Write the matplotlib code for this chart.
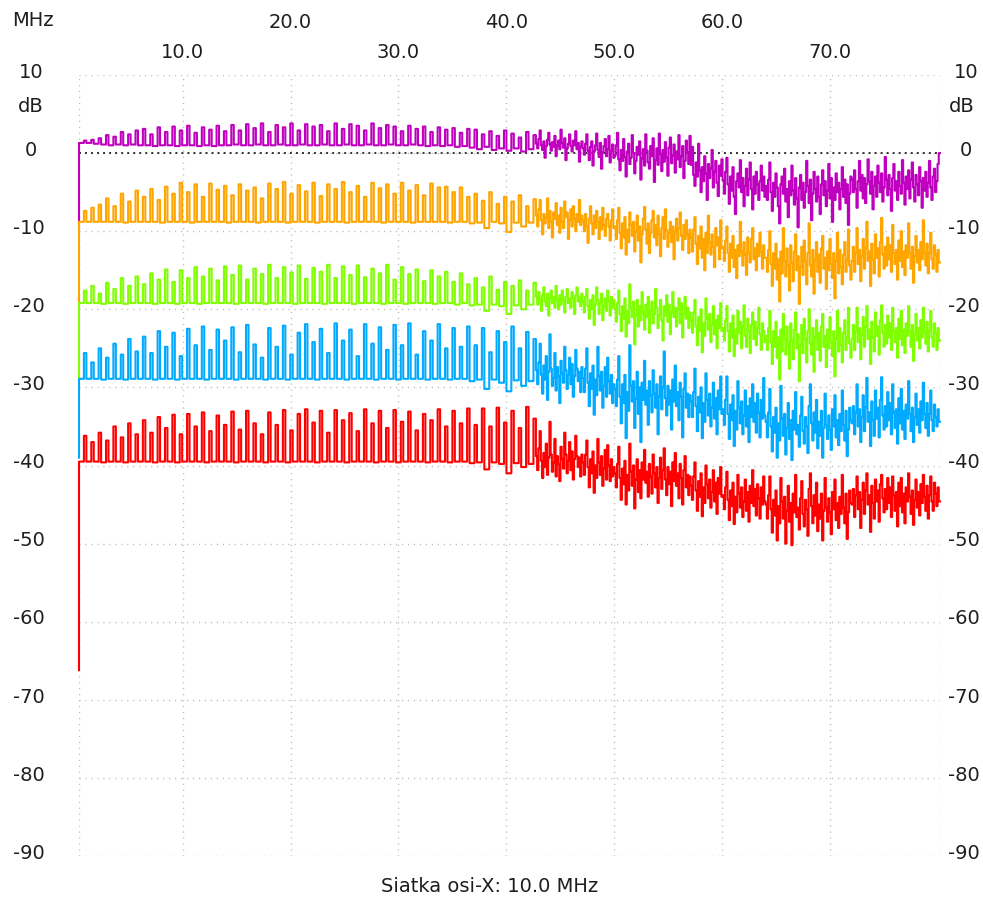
# Frequency response sweep, five traces offset by 10 dB each.
# Values (dB vs MHz).

import numpy as np
import matplotlib
matplotlib.use("Agg")
import matplotlib.pyplot as plt
from matplotlib.transforms import blended_transform_factory

# Sweep range (MHz)
F_START = 0.39
F_STOP = 80.2

# *_COMB: first value = start of trace, then (floor, spike) pairs up to ~42.7 MHz
# *_TAIL: sample by sample values from ~42.7 MHz to the end of the sweep
MAGENTA_COMB = [
    -9.6,
    1.3, 1.6, 1.3, 1.7, 1.2, 1.9,
    1.1, 2.3, 1.0, 2.1, 1.1, 2.7, 1.0, 2.4, 1.1, 2.9,
    1.0, 3.1, 1.0, 2.4, 0.9, 3.3, 1.0, 2.7, 1.0, 3.4, 0.9, 2.9, 1.0, 3.5, 1.0, 2.6, 0.9, 3.3, 1.0, 3.0, 0.9, 3.5, 1.0, 2.8,
    1.0, 3.6, 1.1, 2.9, 1.0, 3.7, 1.0, 3.2, 1.1, 3.8, 1.0, 2.7, 1.0, 3.6, 1.1, 3.3, 1.0, 3.8, 1.0, 2.9,
    1.1, 3.7, 1.0, 3.4, 1.0, 3.6, 1.1, 2.8, 1.0, 3.8, 1.0, 3.1, 1.1, 3.7, 1.0, 3.5, 1.0, 2.9, 1.1, 3.8,
    1.0, 3.2, 1.0, 3.6, 1.1, 3.4, 1.0, 2.8, 1.0, 3.5, 1.1, 3.1, 1.0, 3.4, 0.9, 2.7, 1.0, 3.3, 0.9, 3.0,
    1.0, 3.2, 0.8, 2.6, 0.9, 3.1,
    0.7, 3.0, 0.5, 2.4, 0.8, 2.8, 0.4, 2.2, 0.6, 2.9, 0.3, 2.5, 0.6, 2.0, 0.2, 2.7, 0.5, 2.3,
]
MAGENTA_TAIL = [
    1.2, 0.6, 1.8, 2.9, 1.0, 0.4, 1.5, -0.6, 0.9, 1.7, 2.6, 1.1, 0.3, 1.4, 0.8, 2.2, -0.4, 1.0, 1.6, 0.5,
    3.0, 1.3, 0.7, 1.9, -0.9, 0.6, 1.2, 2.4, 0.9, 0.2, 1.6, 1.0, 2.8, 0.5, 1.3, -1.1, 0.8, 1.5,
    0.6, -0.2, 1.2, 2.4, 0.3, -0.9, 0.8, 1.5, -1.6, 0.2, 1.0, 2.5, 0.4, -0.5, 1.3, -2.0, 0.1, 0.9, 1.8, -0.4,
    0.5, 2.2, -1.2, 0.3, 1.1, -0.6,
    -0.3, 1.0, 2.6, -0.8, -2.2, 0.4, -1.0, 1.8, -0.5, -3.0, 0.2, 1.2, -1.4, -0.6, 2.3, 0.0, -2.6, -1.0, 0.8, -0.2,
    1.5, -3.4, -0.7, 0.5, -1.6, 2.4, 0.3, -1.2, -2.0, 0.9, -0.4, 1.9, -3.7, -0.9, 0.6, -1.5, 2.5, -0.1, -2.3, 0.4,
    -1.1, 1.4, -0.6, -2.9, 0.7, 2.0, -1.3, -0.3, 1.1, -2.5, 0.2, -0.8, 2.3, -1.8, -0.4, 0.9, -3.2, -1.0, 1.6, 0.1,
    -1.4, 2.2,
    -1.5, 0.8, -2.8, -4.2, -1.2, -3.0, 1.2, -2.2, -5.0, -1.8, -3.6, -0.4, -2.6, -6.0, -1.4, -3.2, -2.0, 0.4, -4.4, -2.4,
    -1.0, -3.8, -5.5, -1.6, -2.9, -0.8,
    -3.5, -5.2, -2.4, -0.6, -4.0, -6.5, -3.0, -4.8, -1.8, -5.6, -7.8, -3.6, -2.6, -4.4, -0.9, -5.0, -3.2, -6.8, -4.2, -2.0,
    -5.4, -3.4, -1.2, -4.6, -7.2, -3.0, -5.2, -2.4, -4.0, -6.0, -3.6, -1.6, -4.8, -3.0, -5.6,
    -4.2, -6.0, -3.4, -1.2, -5.0, -7.4, -3.8, -5.6, -2.6, -4.4, -6.8, -9.0, -4.0, -3.0, -5.2, -2.0, -6.2, -4.6, -8.2, -3.6,
    -5.4, -1.6, -4.8, -6.6, -3.2, -5.8, -9.5, -4.4, -2.8, -6.0, -3.8, -7.0, -5.0, -1.0, -4.2, -6.4, -3.4, -8.6, -5.2, -2.4,
    -4.6, -6.2, -3.0, -5.6, -7.8, -4.0, -2.2, -5.4, -3.6, -6.8, -4.8, -1.4, -5.8, -3.2, -8.8, -4.4, -6.0, -2.6, -5.0, -3.8,
    -7.2, -4.6, -1.8, -5.6, -3.4, -6.4, -4.0, -9.2, -5.2, -3.0,
    -3.4, -5.0, -2.2, -4.6, -7.0, -3.6, -1.0, -4.8, -2.8, -5.8, -3.2, -6.4, -4.0, -0.8, -3.6, -5.2, -2.4, -7.2, -4.2, -3.0,
    -5.6, -1.6, -3.8, -5.0, -2.6, -6.2, -4.4, -0.5, -3.4, -5.4, -2.8, -4.6, -7.4, -3.2, -1.4, -4.8, -3.6, -6.0, -2.4, -4.2,
    -5.2, -0.9, -3.8, -6.6, -3.0, -4.6, -2.2, -5.8, -3.4, -1.2, -4.4, -6.2, -2.8, -4.0, -5.4, -1.8, -3.6, -7.0, -3.2, -4.8,
    -2.4, -5.6, -3.8, -1.0, -4.4, -6.0, -3.0, -2.0, -5.0, -3.6, -1.4, 0.0,
]

ORANGE_COMB = [
    -19.0,
    -8.8, -7.4, -8.8, -7.0, -8.8, -6.6,
    -8.8, -5.8, -8.8, -6.8, -8.8, -5.2, -8.9, -6.2, -8.8, -4.8,
    -8.8, -5.6, -8.8, -4.6, -8.8, -6.0, -8.9, -4.3, -8.8, -5.2, -8.8, -3.8, -8.8, -5.0, -8.9, -4.0,
    -8.8, -5.6, -8.8, -3.9, -8.8, -4.7, -8.8, -4.2,
    -8.9, -5.4, -8.8, -4.0, -8.8, -4.8, -8.8, -4.4, -8.9, -5.8, -8.8, -3.9, -8.8, -4.6, -8.8, -3.7,
    -8.9, -5.2, -8.8, -4.1, -8.8, -4.9, -8.8, -3.8, -8.9, -5.5, -8.8, -4.0, -8.8, -4.6, -8.8, -3.7,
    -8.9, -5.0, -8.8, -4.2, -8.8, -5.6, -8.8, -3.8, -8.8, -4.5, -8.9, -4.0, -8.8, -5.2, -8.8, -3.8,
    -8.8, -4.8, -8.9, -4.1, -8.8, -5.4, -8.8, -3.9, -8.8, -4.4, -8.8, -4.3, -8.9, -5.0, -8.8, -4.4,
    -8.8, -5.6,
    -9.0, -5.2, -8.9, -6.1, -9.6, -5.0, -8.8, -6.5, -9.0, -5.6, -10.1, -6.2, -8.9, -5.4, -9.4, -6.8, -8.9, -5.9,
]
ORANGE_TAIL = [
    -8.0, -9.4, -7.2, -6.0, -8.6, -10.4, -7.8, -9.0, -8.2, -5.8, -9.6, -7.4, -8.8, -10.8, -7.6, -8.4, -6.4, -9.2, -8.0, -10.2,
    -7.0, -8.8, -9.6, -6.2, -8.2, -7.6, -11.0, -8.6, -7.2, -9.4, -6.8, -8.4, -10.0, -7.8, -8.8, -6.0, -9.2, -8.0,
    -8.6, -10.0, -7.8, -9.4, -11.5, -8.4, -6.8, -9.0, -10.4, -8.0, -9.6, -7.4, -8.8, -11.0, -8.2, -9.8, -7.0, -9.2, -10.6, -8.4,
    -7.8, -9.4, -11.2, -8.6, -7.2, -9.6,
    -9.4, -11.0, -8.6, -7.0, -10.2, -12.2, -9.0, -10.8, -8.2, -13.0, -9.8, -11.4, -7.6, -9.2, -10.6, -8.8, -12.6, -10.0, -8.0, -11.2,
    -9.4, -14.0, -10.4, -8.4, -6.9, -9.8, -11.6, -9.0, -12.8, -10.2, -8.6, -7.4, -10.8, -9.2, -11.8, -8.0, -10.4, -13.2, -9.6, -8.2,
    -11.0, -7.2, -9.8, -12.0, -10.2, -8.8, -11.4, -9.4, -13.6, -10.0, -8.4, -11.2, -9.6, -7.6, -10.6, -12.4, -9.2, -11.0, -8.6, -10.4,
    -12.8, -9.8,
    -10.8, -12.6, -9.8, -8.2, -11.6, -14.2, -10.6, -12.2, -9.4, -13.4, -11.0, -15.0, -10.2, -12.8, -8.0, -11.4, -13.0, -10.4, -12.0, -14.6,
    -9.6, -11.8, -10.8, -13.6, -8.6, -12.2,
    -12.0, -13.8, -11.2, -9.4, -12.8, -15.2, -11.6, -13.4, -10.6, -14.6, -12.4, -16.0, -11.8, -13.2, -8.8, -12.6, -14.4, -11.4, -13.0, -15.6,
    -10.8, -12.8, -14.0, -11.0, -9.6, -13.6, -12.2, -15.0, -11.6, -13.2, -10.2, -12.6, -14.8, -11.8, -13.4,
    -13.4, -15.2, -12.4, -10.0, -14.2, -17.0, -12.8, -14.8, -11.6, -16.2, -13.6, -19.0, -12.6, -15.4, -9.6, -13.8, -15.8, -12.2, -14.4, -17.6,
    -11.8, -14.0, -16.4, -12.6, -10.4, -15.0, -13.2, -19.3, -14.6, -12.0, -15.6, -11.2, -13.8, -16.8, -12.8, -9.0, -14.4, -15.8, -12.4, -18.0,
    -13.6, -11.4, -15.2, -13.0, -16.6, -12.2, -10.6, -14.8, -13.4, -17.4, -12.6, -15.0, -11.0, -14.2, -16.0, -12.8, -18.6, -13.8, -10.2, -15.4,
    -12.4, -14.6, -16.8, -13.0, -11.4, -15.2, -13.6, -9.8, -14.4, -16.2,
    -13.8, -12.0, -15.2, -12.8, -9.6, -14.2, -12.4, -16.4, -13.2, -11.0, -14.8, -12.2, -8.8, -13.8, -12.6, -17.0, -11.6, -13.6, -15.4, -10.4,
    -13.4, -12.2, -15.8, -11.4, -8.3, -13.0, -14.8, -12.0, -14.4, -10.8, -13.6, -11.8, -15.2, -9.2, -12.8, -14.2, -12.4, -16.2, -11.2, -13.8,
    -10.0, -14.6, -12.6, -15.6, -11.8, -13.4, -9.0, -12.8, -14.8, -12.0, -16.6, -13.2, -10.6, -14.0, -12.4, -15.0, -11.4, -13.6, -8.6, -12.8,
    -14.4, -11.6, -15.4, -12.8, -10.2, -13.6, -14.8, -11.8, -13.0, -15.2, -12.4, -14.0,
]

GREEN_COMB = [
    -29.0,
    -19.2, -17.6, -19.2, -17.0, -19.2, -18.0,
    -19.3, -16.6, -19.2, -17.4, -19.2, -16.0, -19.3, -17.0, -19.2, -15.8,
    -19.2, -16.8, -19.2, -15.4, -19.3, -16.2, -19.2, -14.9, -19.2, -16.5, -19.3, -15.0, -19.2, -16.0,
    -19.2, -14.6, -19.3, -15.8, -19.2, -14.8, -19.2, -16.3, -19.2, -14.5,
    -19.2, -15.6, -19.3, -14.4, -19.2, -16.2, -19.2, -14.8, -19.2, -15.5, -19.3, -14.3, -19.2, -16.0,
    -19.2, -14.6, -19.2, -15.3, -19.3, -14.4, -19.2, -16.1, -19.2, -14.7, -19.2, -15.2, -19.3, -14.3,
    -19.2, -16.0, -19.2, -14.5, -19.2, -15.6, -19.3, -14.4, -19.2, -15.9, -19.2, -14.8, -19.2, -15.4,
    -19.3, -14.3, -19.2, -16.2, -19.2, -14.6, -19.3, -15.5, -19.2, -14.9, -19.2, -16.4, -19.2, -15.0,
    -19.3, -15.8, -19.2, -15.2, -19.2, -16.5, -19.4, -15.4, -19.2, -16.8,
    -19.5, -16.0, -19.4, -17.2, -20.2, -15.8, -19.4, -17.5, -19.6, -16.5, -20.6, -17.0, -19.5, -16.3,
    -20.0, -17.6, -19.4, -16.6,
]
GREEN_TAIL = [
    -18.4, -19.4, -17.8, -18.8, -20.2, -18.2, -17.2, -19.0, -19.6, -18.0, -20.8, -18.6, -17.6, -19.2, -18.4, -19.8, -17.0, -18.8, -20.0, -18.2,
    -19.4, -17.6, -18.8, -20.4, -18.4, -17.4, -19.2, -18.6, -19.8, -17.8, -18.6, -20.6, -18.2, -17.2, -19.0, -18.4, -19.6, -18.0,
    -19.0, -20.4, -18.4, -17.4, -19.6, -21.2, -18.8, -20.0, -18.2, -22.0, -19.4, -17.2, -18.8, -20.6, -19.2, -18.0, -21.4, -19.6, -18.6, -20.2,
    -17.6, -19.0, -20.8, -18.4, -19.8, -18.8,
    -20.0, -21.6, -19.2, -17.6, -20.6, -22.8, -19.6, -21.2, -18.6, -23.5, -20.2, -21.8, -16.8, -19.8, -21.0, -19.0, -24.5, -20.8, -18.8, -22.2,
    -19.6, -21.4, -17.8, -20.4, -22.6, -19.4, -21.0, -18.4, -23.0, -20.2, -19.0, -21.8, -20.6, -17.4, -19.8, -22.4, -20.8, -18.8, -21.4, -24.0,
    -19.6, -20.8, -18.2, -21.6, -19.4, -23.2, -20.4, -17.8, -21.0, -19.8, -22.2, -20.0, -18.6, -21.8, -19.2, -23.6, -20.6, -18.4, -21.2, -19.8,
    -22.4, -20.4,
    -21.4, -23.0, -20.4, -18.8, -22.2, -24.6, -21.0, -22.8, -20.0, -25.5, -21.8, -23.4, -18.6, -21.2, -22.6, -20.6, -24.2, -22.0, -19.6, -23.2,
    -21.4, -25.0, -20.8, -22.4, -19.2, -22.8,
    -22.4, -24.0, -21.4, -19.6, -22.8, -25.4, -21.8, -23.6, -20.8, -26.0, -22.6, -24.4, -20.2, -23.0, -21.6, -25.0, -22.2, -19.5, -23.4, -24.8,
    -21.2, -22.8, -25.6, -22.0, -20.4, -23.8, -21.6, -24.6, -22.4, -19.8, -23.2, -25.2, -21.8, -22.8, -24.2,
    -23.4, -25.2, -22.4, -20.2, -24.2, -27.0, -22.8, -24.8, -21.6, -26.2, -23.6, -29.0, -22.6, -25.4, -20.6, -23.8, -25.8, -22.2, -24.4, -27.6,
    -21.8, -24.0, -26.4, -22.6, -20.4, -25.0, -23.2, -29.2, -24.6, -22.0, -25.6, -21.2, -23.8, -26.8, -22.8, -20.0, -24.4, -25.8, -22.4, -28.0,
    -23.6, -21.4, -25.2, -23.0, -26.6, -22.2, -20.6, -24.8, -23.4, -27.4, -22.6, -25.0, -21.0, -24.2, -26.0, -22.8, -28.6, -23.8, -20.2, -25.4,
    -22.4, -24.6, -26.8, -23.0, -21.4, -25.2, -23.6, -19.8, -24.4, -26.2,
    -23.8, -22.0, -25.2, -22.8, -19.8, -24.2, -22.4, -26.4, -23.2, -21.0, -24.8, -22.2, -19.6, -23.8, -22.6, -27.0, -21.6, -23.6, -25.4, -20.4,
    -23.4, -22.2, -25.8, -21.4, -19.5, -23.0, -24.8, -22.0, -24.4, -20.8, -23.6, -21.8, -25.2, -19.8, -22.8, -24.2, -22.4, -26.2, -21.2, -23.8,
    -20.2, -24.6, -22.6, -25.6, -21.8, -23.4, -19.6, -22.8, -24.8, -22.0, -26.6, -23.2, -20.6, -24.0, -22.4, -25.0, -21.4, -23.6, -19.8, -22.8,
    -24.4, -21.6, -25.4, -22.8, -20.2, -23.6, -24.8, -21.8, -23.0, -25.2, -22.4, -24.0,
]

BLUE_COMB = [
    -39.0,
    -28.9, -25.6, -28.9, -26.8, -28.9, -25.0,
    -29.0, -26.2, -28.9, -24.4, -28.9, -25.8, -29.0, -23.8, -28.9, -25.4,
    -28.9, -23.5, -28.9, -25.6, -29.0, -22.8, -28.9, -24.8, -28.9, -23.0, -29.0, -26.0, -28.9, -22.5,
    -28.9, -24.6, -28.9, -22.2, -29.0, -25.2, -28.9, -22.6, -28.9, -24.0,
    -28.9, -22.3, -29.0, -25.5, -28.9, -22.0, -28.9, -24.5, -28.9, -26.2, -29.0, -22.4, -28.9, -24.8,
    -28.9, -22.1, -29.0, -25.8, -28.9, -23.0, -28.9, -21.9, -28.9, -24.2, -29.0, -22.5, -28.9, -25.6,
    -28.9, -21.8, -28.9, -24.0, -29.0, -22.6, -28.9, -26.0, -28.9, -21.9, -28.9, -24.4, -29.0, -22.3,
    -28.9, -25.2, -28.9, -22.0, -29.0, -24.6, -28.9, -21.8, -28.9, -25.8, -28.9, -22.8, -29.0, -24.0,
    -28.9, -21.9, -28.9, -25.0, -29.0, -22.4, -28.9, -24.8, -28.9, -22.2,
    -29.2, -24.6, -29.0, -22.4, -30.2, -25.5, -29.0, -22.8, -29.4, -24.2, -30.5, -22.2, -29.1, -25.0,
    -29.8, -22.9, -29.2, -23.8,
]
BLUE_TAIL = [
    -27.8, -29.6, -26.8, -24.4, -28.4, -30.8, -27.2, -29.0, -26.0, -31.6, -28.0, -23.2, -27.6, -29.8, -28.8, -25.6, -30.4, -27.4, -28.6, -32.0,
    -26.6, -28.2, -29.4, -24.8, -27.8, -30.2, -28.4, -26.2, -29.6, -27.0, -31.2, -28.6, -25.2, -27.6, -29.2, -28.0, -30.6, -27.4,
    -28.8, -30.6, -27.6, -25.0, -29.4, -32.4, -28.2, -30.2, -27.2, -33.5, -29.0, -31.0, -24.8, -28.6, -30.4, -28.0, -32.6, -29.8, -27.4, -31.2,
    -26.2, -29.2, -30.8, -28.4, -32.0, -29.6,
    -30.2, -32.4, -29.0, -26.0, -31.2, -34.6, -29.6, -32.0, -28.4, -36.5, -30.6, -33.0, -24.6, -29.8, -31.8, -29.2, -35.2, -31.4, -28.0, -33.4,
    -30.0, -37.0, -29.4, -31.6, -26.6, -32.2, -30.4, -34.8, -29.2, -31.0, -33.2, -27.8, -30.8, -32.6, -29.6, -36.0, -31.2, -28.6, -32.8, -30.0,
    -25.4, -31.4, -33.6, -29.8, -32.2, -30.4, -35.4, -29.0, -31.8, -27.2, -32.4, -30.6, -34.2, -29.4, -31.2, -36.4, -30.2, -28.2, -32.6, -30.8,
    -33.8, -31.0,
    -31.8, -33.8, -30.6, -27.6, -32.4, -35.6, -31.2, -33.2, -30.0, -36.5, -32.0, -34.4, -28.2, -31.6, -33.6, -30.8, -35.0, -32.6, -29.4, -34.0,
    -31.4, -36.0, -30.4, -32.8, -28.6, -33.4,
    -32.8, -34.8, -31.6, -28.6, -33.4, -36.6, -32.2, -34.2, -31.0, -37.5, -33.0, -35.4, -29.2, -32.6, -34.6, -31.8, -36.0, -33.6, -30.4, -35.0,
    -32.4, -37.0, -31.4, -33.8, -29.6, -34.4, -32.0, -35.8, -30.8, -33.2, -36.4, -31.6, -34.0, -28.8, -33.6,
    -34.4, -36.4, -33.2, -30.2, -35.0, -38.2, -33.8, -35.8, -32.6, -39.0, -34.6, -36.8, -29.8, -34.0, -36.2, -33.4, -38.6, -35.2, -32.0, -36.6,
    -34.2, -39.3, -33.0, -35.4, -30.6, -36.0, -34.8, -37.6, -33.6, -31.2, -35.6, -37.2, -33.8, -35.0, -38.4, -32.4, -29.6, -34.6, -36.8, -33.2,
    -35.8, -31.6, -37.8, -34.4, -36.2, -33.0, -39.0, -35.2, -30.8, -34.8, -36.6, -33.6, -35.4, -38.0, -32.8, -35.0, -31.0, -36.4, -34.2, -37.4,
    -33.4, -35.6, -30.4, -34.8, -36.8, -33.0, -38.8, -35.4, -32.6, -34.2,
    -34.6, -32.4, -36.0, -33.2, -29.6, -35.0, -32.8, -37.0, -33.8, -31.0, -35.6, -32.6, -28.8, -34.4, -33.2, -37.5, -31.8, -34.2, -36.2, -30.4,
    -34.0, -32.6, -36.4, -31.6, -28.7, -33.6, -35.4, -32.4, -35.0, -30.6, -34.2, -32.0, -36.0, -29.6, -33.2, -35.2, -32.8, -37.2, -31.4, -34.6,
    -30.2, -35.4, -33.0, -36.6, -32.2, -34.0, -29.2, -33.4, -35.6, -32.6, -37.0, -33.8, -30.8, -34.8, -32.8, -35.8, -31.8, -34.2, -29.4, -33.4,
    -35.2, -32.0, -36.2, -33.4, -30.4, -34.2, -35.6, -32.2, -33.8, -35.0, -32.8, -34.4,
]

RED_COMB = [
    -66.2,
    -39.5, -36.2, -39.5, -37.0, -39.5, -35.8,
    -39.6, -36.8, -39.5, -35.0, -39.5, -36.4, -39.6, -34.6, -39.5, -36.0,
    -39.5, -34.2, -39.5, -35.8, -39.6, -33.8, -39.5, -35.2, -39.5, -33.5, -39.6, -36.0, -39.5, -33.4,
    -39.5, -35.0, -39.5, -33.2, -39.6, -35.6, -39.5, -33.6, -39.5, -34.8,
    -39.5, -33.1, -39.6, -35.4, -39.5, -33.0, -39.5, -34.6, -39.5, -36.0, -39.6, -33.2, -39.5, -34.8,
    -39.5, -32.9, -39.6, -35.5, -39.5, -33.4, -39.5, -32.8, -39.5, -34.5, -39.6, -33.0, -39.5, -35.8,
    -39.5, -32.9, -39.5, -34.2, -39.6, -33.3, -39.5, -35.6, -39.5, -32.8, -39.5, -34.6, -39.6, -33.0,
    -39.5, -35.2, -39.5, -32.9, -39.6, -34.4, -39.5, -33.1, -39.5, -35.5, -39.5, -33.4, -39.6, -34.2,
    -39.5, -32.8, -39.5, -35.0, -39.6, -33.0, -39.5, -34.6, -39.5, -32.7,
    -39.7, -34.8, -39.6, -32.7, -40.5, -35.0, -39.6, -32.6, -39.8, -34.5, -41.0, -33.0, -39.7, -35.2,
    -40.2, -32.5, -39.8, -34.0,
]
RED_TAIL = [
    -38.8, -40.6, -37.8, -35.6, -39.4, -41.6, -38.4, -40.2, -37.2, -41.2, -39.0, -34.4, -38.6, -40.8, -39.6, -36.6, -41.4, -38.8, -39.8, -42.0,
    -37.6, -39.2, -40.4, -35.8, -38.6, -41.0, -39.4, -37.0, -40.6, -38.2, -41.8, -39.2, -36.2, -38.8, -40.2, -39.0, -41.4, -38.6,
    -39.6, -41.2, -38.6, -36.8, -40.2, -42.8, -39.2, -41.0, -38.2, -43.5, -40.0, -41.6, -36.6, -39.6, -41.2, -38.8, -42.6, -40.4, -38.0, -41.8,
    -37.4, -40.0, -42.0, -39.2, -41.4, -40.2,
    -41.0, -42.8, -39.8, -37.6, -41.6, -44.4, -40.4, -42.4, -39.4, -45.0, -41.2, -43.2, -37.2, -40.8, -42.6, -40.0, -45.5, -41.8, -39.2, -43.4,
    -40.6, -44.2, -39.6, -41.8, -38.0, -42.2, -40.8, -44.0, -39.8, -41.4, -43.6, -38.6, -41.0, -42.8, -40.2, -44.8, -41.6, -39.0, -43.0, -40.6,
    -37.8, -41.8, -43.8, -40.2, -42.4, -40.8, -45.2, -39.6, -42.0, -38.4, -42.6, -41.0, -44.2, -39.8, -41.6, -45.0, -40.6, -38.8, -42.8, -41.2,
    -43.8, -41.4,
    -42.6, -44.4, -41.4, -39.6, -43.2, -45.8, -42.0, -44.0, -41.0, -46.5, -42.8, -44.8, -40.0, -42.4, -44.2, -41.8, -45.4, -43.4, -40.6, -44.6,
    -42.2, -46.2, -41.6, -43.6, -40.2, -44.0,
    -43.8, -45.6, -42.8, -40.8, -44.4, -47.0, -43.2, -45.2, -42.2, -47.5, -44.0, -46.0, -41.2, -43.6, -45.4, -42.8, -46.6, -44.6, -41.8, -45.8,
    -43.4, -47.2, -42.6, -44.8, -40.6, -45.2, -43.0, -46.4, -42.4, -44.2, -46.8, -42.8, -45.0, -41.4, -44.6,
    -45.0, -46.8, -43.8, -41.4, -45.6, -48.6, -44.4, -46.4, -43.2, -49.6, -45.2, -47.4, -41.6, -44.6, -46.8, -44.0, -50.0, -45.8, -42.6, -47.2,
    -44.8, -50.2, -43.6, -46.0, -41.2, -46.6, -45.4, -48.2, -44.2, -42.0, -46.2, -47.8, -44.4, -45.6, -49.0, -43.0, -41.0, -45.2, -47.4, -43.8,
    -46.4, -42.2, -48.4, -45.0, -46.8, -43.6, -49.6, -45.8, -41.6, -45.4, -47.2, -44.2, -46.0, -48.8, -43.4, -45.6, -41.8, -47.0, -44.8, -48.0,
    -44.0, -46.2, -41.2, -45.4, -47.4, -43.6, -49.4, -46.0, -43.2, -44.8,
    -45.0, -43.0, -46.6, -43.8, -41.4, -45.6, -43.4, -48.0, -44.4, -42.2, -46.2, -43.2, -41.0, -45.0, -43.8, -48.5, -42.6, -44.8, -46.8, -41.8,
    -44.6, -43.2, -47.2, -42.4, -41.2, -44.2, -46.0, -43.0, -45.6, -41.6, -44.8, -42.8, -46.6, -41.4, -43.8, -45.8, -43.4, -47.8, -42.2, -45.2,
    -41.6, -46.0, -43.6, -47.4, -42.8, -44.6, -41.0, -44.0, -46.2, -43.2, -47.6, -44.4, -41.8, -45.4, -43.4, -46.4, -42.4, -44.8, -41.2, -44.0,
    -45.8, -42.6, -46.8, -43.8, -41.4, -44.6, -45.8, -42.2, -43.6, -45.2, -42.8, -44.6,
]

TRACES = [
    (MAGENTA_COMB, MAGENTA_TAIL, "#bf00bf"),
    (ORANGE_COMB, ORANGE_TAIL, "#ffa500"),
    (GREEN_COMB, GREEN_TAIL, "#80ff00"),
    (BLUE_COMB, BLUE_TAIL, "#00aaff"),
    (RED_COMB, RED_TAIL, "#ff0000"),
]

X_TICKS = [10, 20, 30, 40, 50, 60, 70]
X_TICK_LABELS = ["10.0", "20.0", "30.0", "40.0", "50.0", "60.0", "70.0"]
Y_TICKS = [10, 0, -10, -20, -30, -40, -50, -60, -70, -80, -90]
Y_TICK_LABELS = ["10", "0", "-10", "-20", "-30", "-40", "-50", "-60", "-70", "-80", "-90"]

W, H = 983, 902
TEXT_COLOR = "#1e1e1e"
GRID_COLOR = "#b8b8b8"
FONT_SIZE = 14


def fx(px):
    return px / W


def fy(py):
    return 1 - py / H


def build_samples(comb, tail):
    """Expand onto the sweep grid: each (floor, spike) pair becomes
    four floor slots and two spike slots, tail values one slot each."""
    samples = [comb[0]]
    for floor, spike in zip(comb[1::2], comb[2::2]):
        samples += [floor] * 4 + [spike] * 2
    return np.array(samples + tail)


def main():
    plt.rcParams['font.family'] = ['DejaVu Sans']
    fig = plt.figure(figsize=(W / 100, H / 100), dpi=100)
    ax = fig.add_axes([fx(79), fy(856), fx(940) - fx(79), fy(75) - fy(856)])
    ax.set_xlim(F_START, F_STOP)
    ax.set_ylim(-90, 10)
    ax.set_axis_off()

    # dotted grid, borders included
    grid_kw = dict(color=GRID_COLOR, lw=1.0, linestyle=(0, (0.8, 3.5)), zorder=1)
    for v in Y_TICKS:
        ax.axhline(v, **grid_kw)
    for v in [F_START] + X_TICKS + [F_STOP]:
        ax.axvline(v, **grid_kw)

    # 0 dB reference line
    ax.axhline(0, color="#333333", lw=1.4, linestyle=(0, (1, 2.1)), zorder=2)

    for comb, tail, color in TRACES:
        vals = build_samples(comb, tail)
        freqs = np.linspace(F_START, F_STOP, len(vals))
        ax.plot(freqs, vals, color=color, lw=1.5, drawstyle="steps-pre",
                zorder=3, clip_on=False, snap=False)

    # frequency labels on top, staggered in two rows
    top = blended_transform_factory(ax.transData, fig.transFigure)
    for i, (v, lab) in enumerate(zip(X_TICKS, X_TICK_LABELS)):
        row_y = fy(52) if i % 2 == 0 else fy(22)
        ax.text(v, row_y, lab, transform=top, ha="center", va="center",
                fontsize=FONT_SIZE, color=TEXT_COLOR)

    # dB labels on both sides
    side = blended_transform_factory(fig.transFigure, ax.transData)
    for v, lab in zip(Y_TICKS, Y_TICK_LABELS):
        if lab.startswith("-"):
            left_x, right_x, ha = fx(45), fx(980), "right"
        else:
            left_x, right_x, ha = fx(31), fx(966), "center"
        for x in (left_x, right_x):
            ax.text(x, v + 0.35, lab, transform=side, ha=ha, va="center",
                    fontsize=FONT_SIZE, color=TEXT_COLOR)

    fig.text(fx(31), fy(106), "dB", ha="center", va="center", fontsize=FONT_SIZE, color=TEXT_COLOR)
    fig.text(fx(962), fy(106), "dB", ha="center", va="center", fontsize=FONT_SIZE, color=TEXT_COLOR)
    fig.text(fx(33), fy(21), "MHz", ha="center", va="center", fontsize=FONT_SIZE, color=TEXT_COLOR)
    fig.text(fx(490), fy(886), "Siatka osi-X: 10.0 MHz", ha="center", va="center",
             fontsize=FONT_SIZE, color=TEXT_COLOR)

    fig.savefig("out.png", dpi=100, facecolor="white")


if __name__ == '__main__':
    main()
